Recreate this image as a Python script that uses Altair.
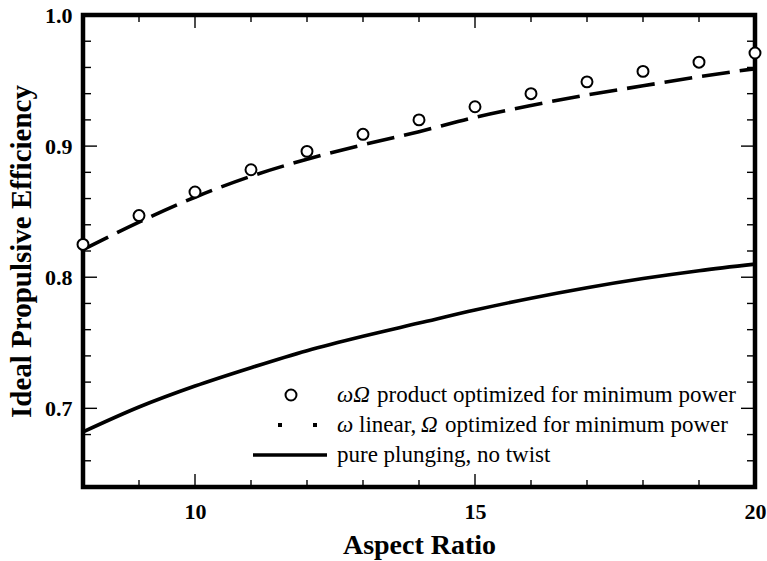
import altair as alt
import pandas as pd

# ---- data ----
aspect = [8, 9, 10, 11, 12, 13, 14, 15, 16, 17, 18, 19, 20]
eff_product = [0.825, 0.847, 0.865, 0.882, 0.896, 0.909, 0.920, 0.930, 0.940, 0.949, 0.957, 0.964, 0.971]
eff_linear = [0.821, 0.842, 0.861, 0.877, 0.890, 0.901, 0.911, 0.922, 0.931, 0.939, 0.946, 0.953, 0.959]
eff_plunge = [0.682, 0.701, 0.717, 0.731, 0.744, 0.755, 0.765, 0.775, 0.784, 0.792, 0.799, 0.805, 0.810]

x_major = [10, 15, 20]
x_minor = [9, 11, 12, 13, 14, 16, 17, 18, 19]
x_major_inner = [10, 15]
y_major = [0.7, 0.8, 0.9, 1.0]
y_major_inner = [0.7, 0.8, 0.9]
y_minor = [0.66, 0.68, 0.72, 0.74, 0.76, 0.78, 0.82, 0.84, 0.86, 0.88, 0.92, 0.94, 0.96, 0.98]

W, H = 672, 472
FONT = "'Liberation Serif', 'Times New Roman', Times, serif"

df = pd.DataFrame({"ar": aspect, "prod": eff_product, "lin": eff_linear, "plunge": eff_plunge})

xs = alt.Scale(domain=[8, 20], nice=False, zero=False)
ys = alt.Scale(domain=[0.64, 1.0], nice=False, zero=False)

base = alt.Chart(df)

x_enc = alt.X("ar:Q", scale=xs, axis=alt.Axis(
    values=x_major, format="d", title="Aspect Ratio", labelFont=FONT, labelFontSize=22,
    labelFontWeight="bold", labelColor="black", ticks=False, tickSize=0, domain=False,
    grid=False, labelPadding=14, titleFont=FONT, titleFontSize=28, titleFontWeight="bold",
    titleColor="black", titlePadding=9, labelFlush=False))
y_enc = alt.Y("prod:Q", scale=ys, axis=alt.Axis(
    values=y_major, format=".1f", title="Ideal Propulsive Efficiency", labelFont=FONT,
    labelFontSize=22, labelFontWeight="bold", labelColor="black", ticks=False, tickSize=0,
    domain=False, grid=False, labelPadding=11, titleFont=FONT, titleFontSize=29,
    titleFontWeight="bold", titleColor="black", titlePadding=8, labelFlush=False))

plunge = base.mark_line(color="black", strokeWidth=3.6, interpolate="monotone").encode(
    x=alt.X("ar:Q", scale=xs), y=alt.Y("plunge:Q", scale=ys))
linear = base.mark_line(color="black", strokeWidth=3.6, strokeDash=[28, 10],
                        interpolate="monotone").encode(
    x=alt.X("ar:Q", scale=xs), y=alt.Y("lin:Q", scale=ys))
points = base.mark_point(shape="circle", size=120, filled=True, fill="white",
                         stroke="black", strokeWidth=2, opacity=1, clip=False).encode(
    x=x_enc, y=y_enc)

# inward ticks
def xticks(vals, length):
    d = pd.DataFrame({"v": vals})
    bot = alt.Chart(d).mark_rule(color="black", strokeWidth=1.4).encode(
        x=alt.X("v:Q", scale=xs), y=alt.value(H), y2=alt.value(H - length))
    top = alt.Chart(d).mark_rule(color="black", strokeWidth=1.4).encode(
        x=alt.X("v:Q", scale=xs), y=alt.value(0), y2=alt.value(length))
    return bot + top

def yticks(vals, length):
    d = pd.DataFrame({"v": vals})
    left = alt.Chart(d).mark_rule(color="black", strokeWidth=1.4).encode(
        y=alt.Y("v:Q", scale=ys), x=alt.value(0), x2=alt.value(length))
    right = alt.Chart(d).mark_rule(color="black", strokeWidth=1.4).encode(
        y=alt.Y("v:Q", scale=ys), x=alt.value(W), x2=alt.value(W - length))
    return left + right

ticks = xticks(x_minor, 7) + xticks(x_major_inner, 13) + yticks(y_minor, 8) + yticks(y_major_inner, 14)

# legend (drawn manually)
leg_df = pd.DataFrame({"k": [0]})
lb = alt.Chart(leg_df)
r1, r2, r3 = 380, 410, 440
leg_circle = lb.mark_point(shape="circle", size=120, filled=True, fill="white",
                           stroke="black", strokeWidth=2, opacity=1).encode(
    x=alt.value(208), y=alt.value(r1))
leg_sq1 = lb.mark_square(size=16, color="black", opacity=1).encode(x=alt.value(197), y=alt.value(r2))
leg_sq2 = lb.mark_square(size=16, color="black", opacity=1).encode(x=alt.value(232), y=alt.value(r2))
leg_line = lb.mark_rule(color="black", strokeWidth=3.6).encode(
    x=alt.value(170), x2=alt.value(244), y=alt.value(r3))

def txt(s, x, y, italic=False):
    return lb.mark_text(text=s, font=FONT, fontSize=23, align="left", baseline="middle",
                        color="black", fontStyle="italic" if italic else "normal").encode(
        x=alt.value(x), y=alt.value(y))

legend = (leg_circle + leg_sq1 + leg_sq2 + leg_line
          + txt("ωΩ", 254, r1, True) + txt("product optimized for minimum power", 294, r1)
          + txt("ω", 254, r2, True) + txt("linear,", 276, r2) + txt("Ω", 338, r2, True)
          + txt("optimized for minimum power", 362, r2)
          + txt("pure plunging, no twist", 254, r3))

chart = alt.layer(ticks, plunge, linear, points, legend).properties(
    width=W, height=H,
    autosize=alt.AutoSizeParams(type="none"),
    padding={"left": 83, "top": 15, "right": 12, "bottom": 74},
    background="white",
).configure_view(stroke="black", strokeWidth=4.5)

chart.save("out.html", embed_options={"renderer": "svg", "actions": False})
